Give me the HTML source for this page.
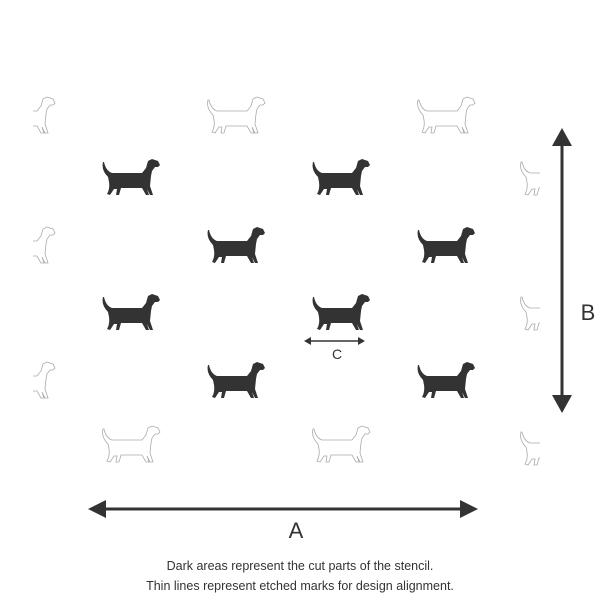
<!DOCTYPE html>
<html><head><style>body{margin:0;background:#fff}svg{display:block}</style></head><body>
<svg width="600" height="600" viewBox="0 0 600 600" xmlns="http://www.w3.org/2000/svg">
<defs>
<path id="dog" d="M3,4 Q1,12 8,19 L9,24 Q10,31 7,36 L10,37 L14,31 L17,31 L16,37 L19,37 L21,30 L42,30 L46,37 L49,37 L47,31 L50,37 L53,37 L50,28 L51,18 L52,13 L55,9 L58,9 L60,7 L58,3 L52,1 L48,3 L46,10 L42,15 L12,15 Q6,13 4,4 Z"/>
<clipPath id="cl"><rect x="33" y="0" width="25" height="600"/></clipPath>
<clipPath id="cr"><rect x="515" y="0" width="25" height="600"/></clipPath>
</defs>
<g fill="#333">
<use href="#dog" x="100" y="158"/><use href="#dog" x="310" y="158"/>
<use href="#dog" x="205" y="226"/><use href="#dog" x="415" y="226"/>
<use href="#dog" x="100" y="293"/><use href="#dog" x="310" y="293"/>
<use href="#dog" x="205" y="361"/><use href="#dog" x="415" y="361"/>
</g>
<g fill="none" stroke="#aaa" stroke-width="0.8">
<use href="#dog" x="205" y="96"/><use href="#dog" x="415" y="96"/>
<use href="#dog" x="100" y="425"/><use href="#dog" x="310" y="425"/>
<g clip-path="url(#cl)"><use href="#dog" x="-5" y="96"/><use href="#dog" x="-5" y="226"/><use href="#dog" x="-5" y="361"/></g>
<g clip-path="url(#cr)"><use href="#dog" x="518" y="158"/><use href="#dog" x="518" y="293"/><use href="#dog" x="518" y="428"/></g>
</g>
<g stroke="#333" stroke-width="3" fill="#333">
<line x1="100" y1="509" x2="466" y2="509"/>
<polygon points="88,509 106,500 106,518" stroke="none"/>
<polygon points="478,509 460,500 460,518" stroke="none"/>
<line x1="562" y1="140" x2="562" y2="400"/>
<polygon points="562,128 552,146 572,146" stroke="none"/>
<polygon points="562,413 552,395 572,395" stroke="none"/>
<line x1="308" y1="341" x2="361" y2="341" stroke-width="1.5"/>
<polygon points="304,341 311,337 311,345" stroke="none"/>
<polygon points="365,341 358,337 358,345" stroke="none"/>
</g>
<g font-family="Liberation Sans, sans-serif" fill="#333" text-anchor="middle">
<text x="296" y="538" font-size="22">A</text>
<text x="588" y="320" font-size="22">B</text>
<text x="337" y="359" font-size="14">C</text>
<text x="300" y="570" font-size="12.5">Dark areas represent the cut parts of the stencil.</text>
<text x="300" y="590" font-size="12.5">Thin lines represent etched marks for design alignment.</text>
</g>
</svg>
</body></html>
